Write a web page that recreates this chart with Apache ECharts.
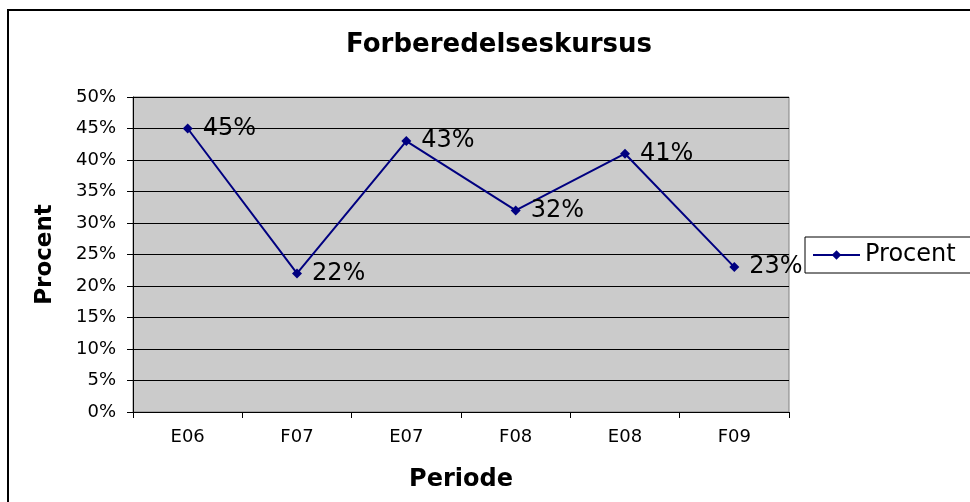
<!DOCTYPE html>
<html>
<head>
<meta charset="utf-8">
<script src="https://cdn.jsdelivr.net/npm/echarts@6/dist/echarts.min.js"></script>
<style>
  html, body { margin: 0; padding: 0; background: #fff; }
  #myChart { width: 970px; height: 502px; }
</style>
</head>
<body>
<div id="myChart"></div>
<script>
// data
var periods = ['E06', 'F07', 'E07', 'F08', 'E08', 'F09']
var procent = [45, 22, 43, 32, 41, 23]
var seriesName = 'Procent'

var font = 'DejaVu Sans, Verdana, sans-serif'
var myChart = echarts.init(document.getElementById('myChart'))
myChart.setOption({
  animation: false,
  backgroundColor: '#fff',
  textStyle: { fontFamily: font },
  title: {
    text: 'Forberedelseskursus',
    left: 494,
    textAlign: 'center',
    top: 27,
    textStyle: { fontFamily: font, fontSize: 26, fontWeight: 'bold', color: '#000' }
  },
  // outer chart frame, partly cut off at right and bottom
  graphic: [{
    type: 'rect',
    shape: { x: 8, y: 10, width: 1000, height: 600 },
    style: { fill: 'none', stroke: '#000', lineWidth: 2 },
    z: -1
  }],
  legend: {
    data: [seriesName],
    left: 805,
    top: 237,
    padding: [6, 20, 6, 7],
    itemWidth: 47,
    itemHeight: 12,
    itemGap: 8,
    backgroundColor: '#fff',
    borderColor: '#000',
    borderWidth: 1,
    borderRadius: 0,
    z: 10,
    textStyle: { fontFamily: font, fontSize: 24, color: '#000' }
  },
  grid: {
    left: 133,
    right: 181,
    top: 97,
    bottom: 90,
    show: true,
    backgroundColor: '#cbcbcb',
    borderColor: '#808080',
    borderWidth: 1
  },
  xAxis: {
    type: 'category',
    data: periods,
    boundaryGap: true,
    name: 'Periode',
    nameLocation: 'middle',
    nameGap: 56,
    nameTextStyle: { fontFamily: font, fontSize: 24, fontWeight: 'bold', color: '#000' },
    axisLine: { show: true, lineStyle: { color: '#000', width: 1 } },
    axisTick: { show: true, alignWithLabel: false, length: 6, lineStyle: { color: '#000' } },
    axisLabel: { fontFamily: font, fontSize: 18, color: '#000', margin: 16 },
    splitLine: { show: false }
  },
  yAxis: {
    type: 'value',
    min: 0,
    max: 50,
    interval: 5,
    name: 'Procent',
    nameLocation: 'middle',
    nameGap: 76,
    nameRotate: 90,
    nameTextStyle: { fontFamily: font, fontSize: 23, fontWeight: 'bold', color: '#000' },
    axisLine: { show: true, lineStyle: { color: '#000', width: 1 } },
    axisTick: { show: true, length: 6, lineStyle: { color: '#000' } },
    axisLabel: { fontFamily: font, fontSize: 18, color: '#000', margin: 17, formatter: '{value}%' },
    splitLine: { show: true, lineStyle: { color: '#000', width: 1 } }
  },
  series: [{
    name: seriesName,
    type: 'line',
    data: procent,
    color: '#000080',
    symbol: 'diamond',
    symbolSize: 10,
    lineStyle: { color: '#000080', width: 2 },
    itemStyle: { color: '#000080' },
    label: {
      show: true,
      position: 'right',
      distance: 10,
      formatter: '{c}%',
      fontFamily: font,
      fontSize: 24,
      color: '#000'
    }
  }]
})
</script>
</body>
</html>
